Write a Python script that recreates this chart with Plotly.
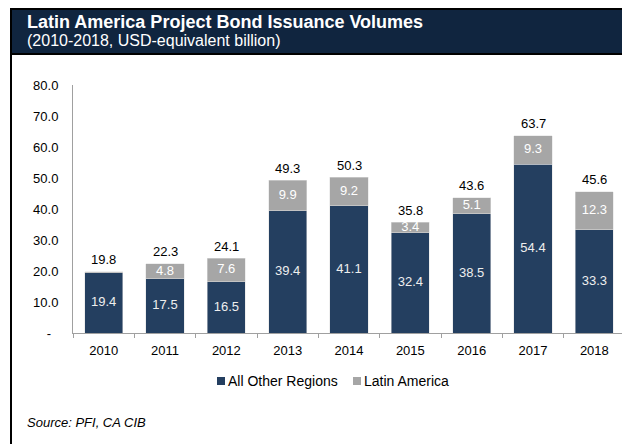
import plotly.graph_objs as go

years = ["2010", "2011", "2012", "2013", "2014", "2015", "2016", "2017", "2018"]
other_regions = [19.4, 17.5, 16.5, 39.4, 41.1, 32.4, 38.5, 54.4, 33.3]
latin_america = [0.4, 4.8, 7.6, 9.9, 9.2, 3.4, 5.1, 9.3, 12.3]
totals = [19.8, 22.3, 24.1, 49.3, 50.3, 35.8, 43.6, 63.7, 45.6]
y_ticks = [0, 10, 20, 30, 40, 50, 60, 70, 80]
y_ticktext = ["-\u00a0\u00a0", "10.0", "20.0", "30.0", "40.0", "50.0", "60.0", "70.0", "80.0"]

NAVY = "#243F60"
GREY = "#A6A6A6"
HEADER = "#10253F"
FONT = "Liberation Sans, Arial, sans-serif"


# page pixel -> paper coords (plot area is x 73..625, y 85..333 on the page)
def px(x):
    return (x - 73) / 552.0


def py(y):
    return (333 - y) / 248.0


fig = go.Figure()
fig.add_trace(go.Bar(x=years, y=other_regions, name="All Other Regions",
                     marker=dict(color=NAVY, line=dict(color="#E0E0E0", width=0.5)),
                     hoverinfo="skip"))
fig.add_trace(go.Bar(x=years, y=latin_america, name="Latin America",
                     marker=dict(color=GREY, line=dict(color="#E0E0E0", width=0.5)),
                     hoverinfo="skip"))

# segment labels, centred in each segment
mid_other = [v / 2 for v in other_regions]
mid_latam = [o + l / 2 for o, l in zip(other_regions, latin_america)]
latam_text = ["%.1f" % v if v >= 1 else "" for v in latin_america]
fig.add_trace(go.Scatter(x=years, y=mid_other, mode="text",
                         text=["%.1f" % v for v in other_regions],
                         textfont=dict(color="#EEEEEE", size=13, family=FONT),
                         showlegend=False, hoverinfo="skip"))
fig.add_trace(go.Scatter(x=years, y=mid_latam, mode="text", text=latam_text,
                         textfont=dict(color="#FFFFFF", size=13, family=FONT),
                         showlegend=False, hoverinfo="skip"))

# totals above the bars (x as category index)
for i, t in enumerate(totals):
    fig.add_annotation(x=i, y=t, text="%.1f" % t, showarrow=False, yanchor="middle",
                       yshift=12, font=dict(color="black", size=13, family=FONT))

# body margin of the page is 8px, so the figure is 8px smaller and margins are 8px less
fig.update_layout(
    width=622, height=436,
    margin=dict(l=65, r=5, t=77, b=111),
    paper_bgcolor="white", plot_bgcolor="white",
    barmode="stack", bargap=0.38,
    font=dict(family=FONT, size=13, color="black"),
    showlegend=False,
    xaxis=dict(type="category", range=[-0.5, len(years) - 0.5], showline=True,
               linecolor="#A0A0A0", linewidth=1,
               ticks="outside", tickson="boundaries", ticklen=4, tickcolor="#A0A0A0",
               ticklabelstandoff=5, tickangle=0, showgrid=False, zeroline=False,
               fixedrange=True),
    yaxis=dict(range=[0, 80], showline=True, linecolor="#A0A0A0", linewidth=1,
               tickvals=y_ticks, ticktext=y_ticktext, ticks="outside", ticklen=11,
               tickcolor="rgba(0,0,0,0)", showgrid=False, zeroline=False, fixedrange=True),
)

# header band and frame
fig.add_shape(type="rect", xref="paper", yref="paper", x0=px(11), x1=px(640), y0=py(54), y1=py(9),
              fillcolor=HEADER, line=dict(color="black", width=2), layer="below")
fig.add_shape(type="line", xref="paper", yref="paper", x0=px(11), x1=px(11), y0=py(9), y1=py(450),
              line=dict(color="black", width=2))

fig.add_annotation(xref="paper", yref="paper", x=px(25), y=py(22), xanchor="left", yanchor="middle",
                   text="<b>Latin America Project Bond Issuance Volumes</b>", showarrow=False,
                   font=dict(color="white", size=18, family=FONT))
fig.add_annotation(xref="paper", yref="paper", x=px(25), y=py(41), xanchor="left", yanchor="middle",
                   text="(2010-2018, USD-equivalent billion)", showarrow=False,
                   font=dict(color="white", size=16, family=FONT))
fig.add_annotation(xref="paper", yref="paper", x=px(25), y=py(422), xanchor="left", yanchor="middle",
                   text="<i>Source: PFI, CA CIB</i>", showarrow=False,
                   font=dict(color="black", size=13, family=FONT))

# legend: small squares next to the names
legend_items = [("All Other Regions", NAVY, 217), ("Latin America", GREY, 353)]
for name, col, x0 in legend_items:
    fig.add_shape(type="rect", xref="paper", yref="paper", x0=px(x0), x1=px(x0 + 8),
                  y0=py(385), y1=py(377), fillcolor=col, line=dict(width=0))
    fig.add_annotation(xref="paper", yref="paper", x=px(x0 + 9), y=py(381), xanchor="left",
                       yanchor="middle", text=name, showarrow=False,
                       font=dict(color="black", size=14, family=FONT))

fig.write_html("out.html", config={"displayModeBar": False})
